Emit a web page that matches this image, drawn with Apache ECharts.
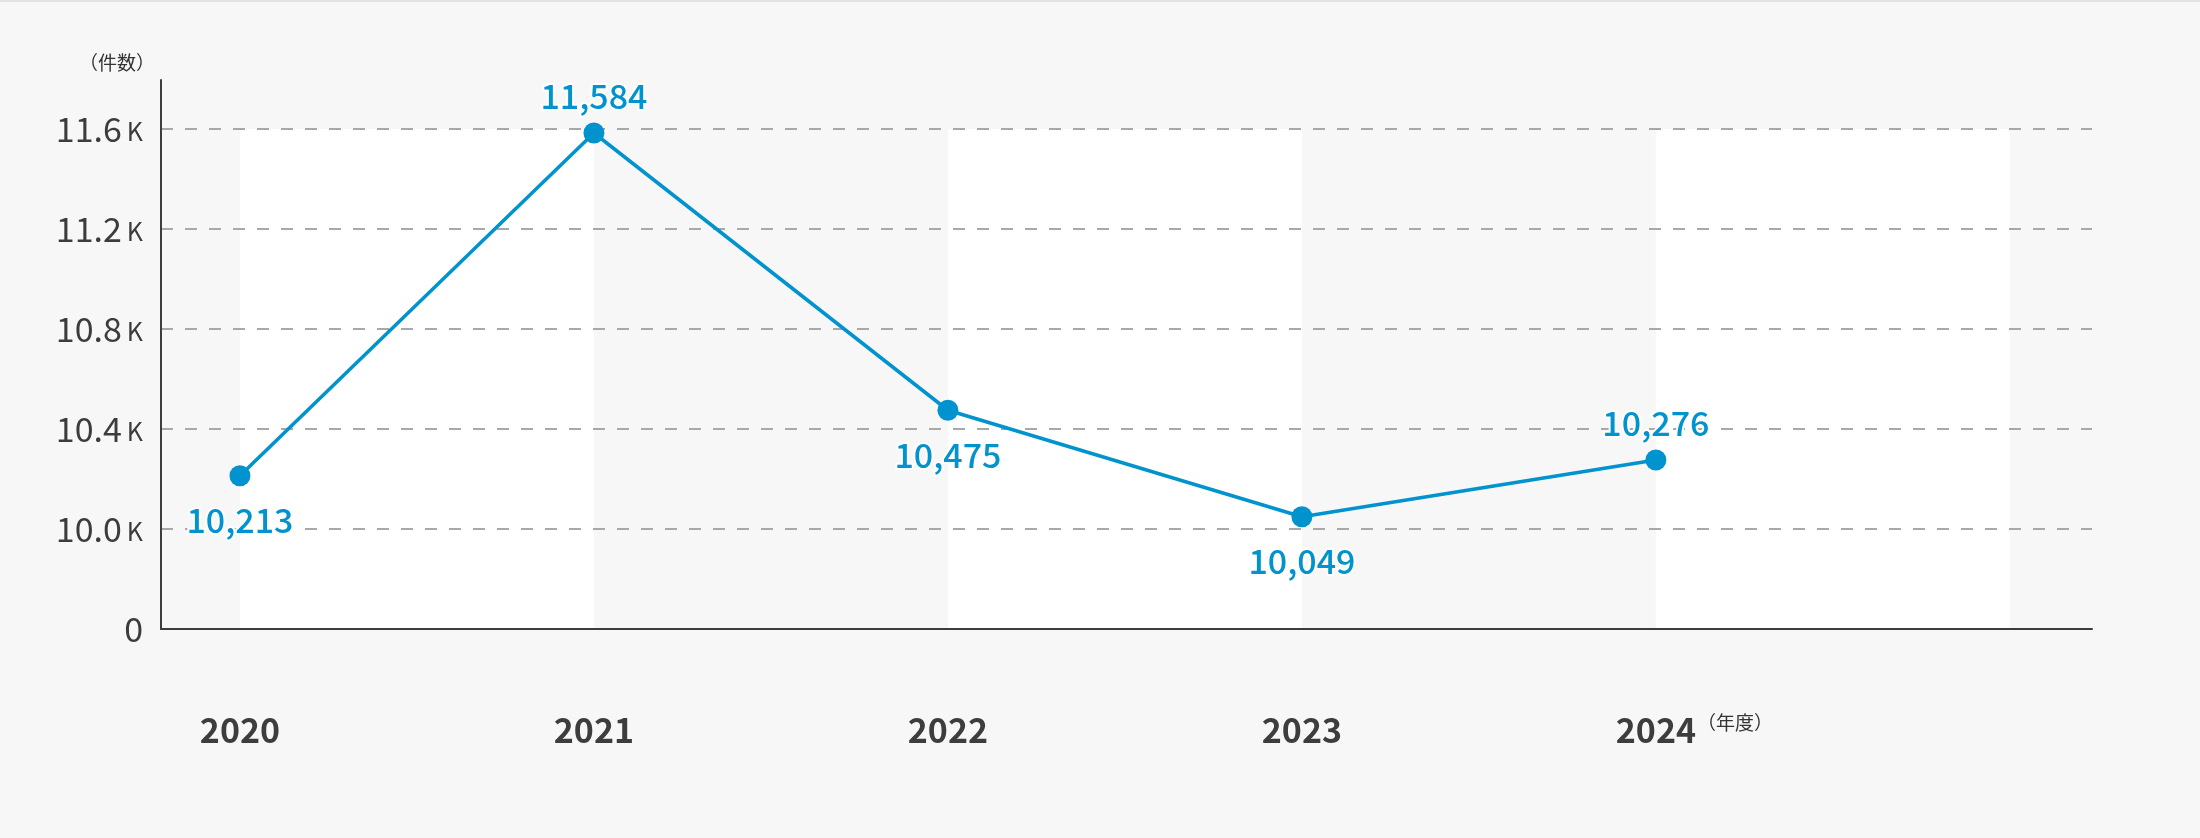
<!DOCTYPE html>
<html>
<head>
<meta charset="utf-8">
<script src="https://cdn.jsdelivr.net/npm/echarts@6/dist/echarts.min.js"></script>
<style>
  html, body { margin: 0; padding: 0; background: #f7f7f7; }
  #chart { width: 2200px; height: 838px; }
</style>
</head>
<body>
<div id="chart"></div>
<script>
// ---- data ----
const years = [2020, 2021, 2022, 2023, 2024];
const counts = [10213, 11584, 10475, 10049, 10276];
const yTicks = [9600, 10000, 10400, 10800, 11200, 11600]; // 9600 is shown as the broken-axis "0"
const yTickLabels = ['0', '10.0', '10.4', '10.8', '11.2', '11.6'];
const bandStarts = [2020, 2022, 2024];
const yUnit = '（件数）';
const xUnit = '（年度）';

const FONT = '"Noto Sans CJK JP", "Noto Sans", sans-serif';
const BLUE = '#0093ce';
const labelBelow = { 2020: true, 2021: false, 2022: true, 2023: true, 2024: false };

const chart = echarts.init(document.getElementById('chart'), null, { renderer: 'canvas' });

const option = {
  backgroundColor: '#f7f7f7',
  animation: false,
  textStyle: { fontFamily: FONT },
  grid: { left: 161, right: 108, top: 80, bottom: 209, containLabel: false },
  graphic: [
    { type: 'rect', shape: { x: 0, y: 0, width: 2200, height: 2 }, style: { fill: '#e3e3e3' }, silent: true },
    { type: 'text', left: 1697, top: 713, style: { text: xUnit, fontSize: 19, fontFamily: FONT, fill: '#333' }, silent: true }
  ],
  xAxis: {
    type: 'value',
    min: 2019.777,
    max: 2025.232,
    axisLine: { show: true, lineStyle: { color: '#3d3d3d', width: 2 } },
    axisTick: { show: false },
    splitLine: { show: false },
    axisLabel: {
      customValues: years,
      margin: 84,
      fontSize: 34,
      fontWeight: 'bold',
      color: '#3d3d3d',
      fontFamily: FONT,
      formatter: v => String(Math.round(v))
    }
  },
  yAxis: {
    type: 'value',
    min: yTicks[0],
    max: 11796,
    interval: 400,
    name: yUnit,
    nameLocation: 'end',
    nameGap: 17,
    nameTextStyle: { fontSize: 19, color: '#333', align: 'right', verticalAlign: 'middle', padding: [0, 6, 0, 0], fontFamily: FONT },
    axisLine: { show: true, lineStyle: { color: '#3d3d3d', width: 2 } },
    axisTick: { show: false },
    splitLine: {
      show: true,
      showMinLine: false,
      showMaxLine: false,
      lineStyle: { color: '#a8a8a8', width: 2, type: [12, 12] }
    },
    axisLabel: {
      customValues: yTicks,
      margin: 18,
      color: '#3c3c3c',
      fontFamily: FONT,
      formatter: v => {
        const i = yTicks.indexOf(Math.round(v));
        if (i < 0) return '';
        if (i === 0) return '{n|' + yTickLabels[i] + '}';
        return '{n|' + yTickLabels[i] + '}{k|K}';
      },
      rich: {
        n: { fontSize: 34, color: '#3c3c3c', fontFamily: FONT },
        k: { fontSize: 25, color: '#3c3c3c', fontFamily: FONT, padding: [4, 0, 0, 5] }
      }
    }
  },
  series: [
    {
      type: 'custom',
      z: -1,
      silent: true,
      data: bandStarts.map(s => [s]),
      renderItem: (params, api) => {
        const x0 = api.value(0);
        const p0 = api.coord([x0, yTicks[yTicks.length - 1]]);
        const p1 = api.coord([x0 + 1, yTicks[0]]);
        return {
          type: 'rect',
          shape: { x: p0[0], y: p0[1], width: p1[0] - p0[0], height: p1[1] - p0[1] },
          style: { fill: '#ffffff' }
        };
      }
    },
    {
      type: 'line',
      z: 3,
      data: years.map((y, i) => ({
        value: [y, counts[i]],
        label: {
          position: labelBelow[y] ? 'bottom' : 'top',
          distance: labelBelow[y] ? 17 : 9
        }
      })),
      symbol: 'circle',
      symbolSize: 21,
      lineStyle: { color: BLUE, width: 3.5 },
      itemStyle: { color: BLUE },
      label: {
        show: true,
        fontSize: 34,
        fontWeight: 500,
        color: BLUE,
        fontFamily: FONT,
        textBorderColor: '#ffffff',
        textBorderWidth: 4,
        formatter: p => p.value[1].toLocaleString('en-US')
      }
    }
  ]
};

chart.setOption(option);
</script>
</body>
</html>
